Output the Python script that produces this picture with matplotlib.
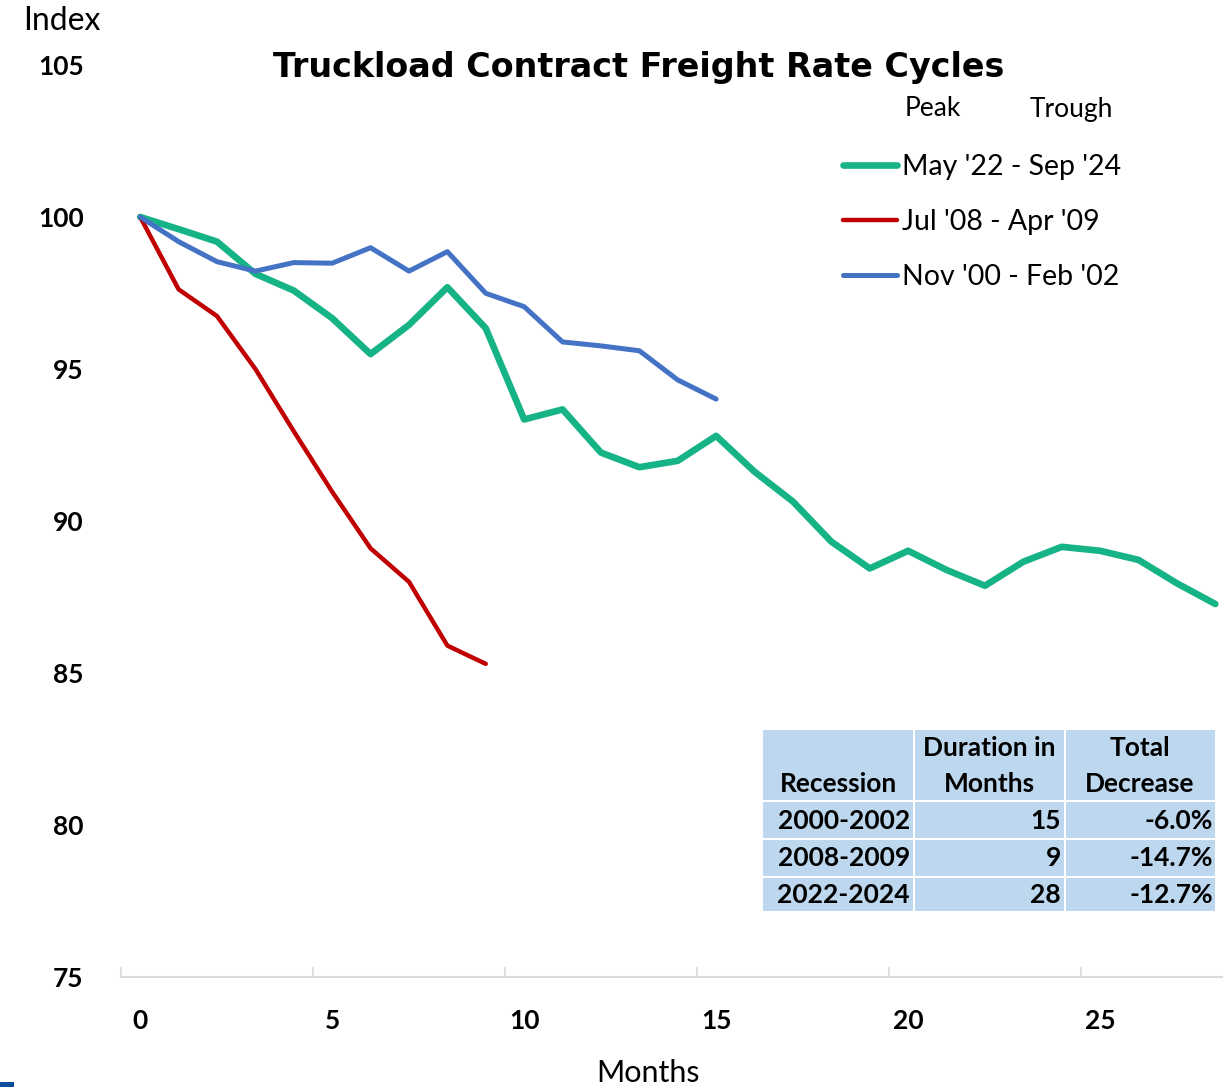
import matplotlib
matplotlib.use("Agg")
import matplotlib.pyplot as plt
from matplotlib.patches import Rectangle

# ---------------- data ----------------
series_labels = ["May '22 - Sep '24", "Jul '08 - Apr '09", "Nov '00 - Feb '02"]
green_2022 = [100.0, 99.6, 99.19, 98.13, 97.58, 96.67, 95.49, 96.45, 97.69, 96.34,
              93.34, 93.67, 92.25, 91.77, 91.98, 92.80, 91.62, 90.64, 89.32, 88.44,
              89.02, 88.39, 87.87, 88.66, 89.15, 89.02, 88.72, 87.95, 87.27]
red_2008 = [100.0, 97.62, 96.74, 95.0, 92.95, 90.96, 89.10, 88.0, 85.90, 85.30]
blue_2000 = [100.0, 99.19, 98.53, 98.22, 98.50, 98.48, 98.99, 98.22, 98.86, 97.49,
             97.05, 95.89, 95.76, 95.60, 94.64, 94.01]
x_ticks = [0, 5, 10, 15, 20, 25]
y_ticks = [75, 80, 85, 90, 95, 100, 105]

table_header = ["Recession", "Duration in\nMonths", "Total\nDecrease"]
table_recession = ["2000-2002", "2008-2009", "2022-2024"]
table_duration = ["15", "9", "28"]
table_decrease = ["-6.0%", "-14.7%", "-12.7%"]

# ---------------- figure ----------------
W, H = 1223, 1087
fig = plt.figure(figsize=(W / 100, H / 100), dpi=100)
plt.rcParams['font.family'] = ['Lato', 'DejaVu Sans']


def fx(px):
    return px / W


def fy(py):
    return 1 - py / H


ax = fig.add_axes([fx(121), fy(977), fx(1223) - fx(121), fy(65) - fy(977)])
ax.set_xlim(-0.5, 28.2)
ax.set_ylim(75, 105)

green_c, red_c, blue_c = "#16B386", "#C00000", "#4472C4"
l1, = ax.plot(range(len(green_2022)), green_2022, color=green_c, lw=4.8,
              solid_capstyle='round', solid_joinstyle='round', label=series_labels[0], zorder=3)
l2, = ax.plot(range(len(red_2008)), red_2008, color=red_c, lw=3.2,
              solid_capstyle='round', solid_joinstyle='round', label=series_labels[1], zorder=4)
l3, = ax.plot(range(len(blue_2000)), blue_2000, color=blue_c, lw=3.6,
              solid_capstyle='round', solid_joinstyle='round', label=series_labels[2], zorder=5)

for s in ['top', 'right', 'left']:
    ax.spines[s].set_visible(False)
ax.spines['bottom'].set_color('#D9D9D9')
ax.spines['bottom'].set_linewidth(1.5)

# x ticks: category-style boundaries with labels at months
ax.set_xticks([t - 0.5 for t in x_ticks])
ax.set_xticklabels([])
ax.tick_params(axis='x', direction='in', length=7, width=1.2, color='#D9D9D9')
ax.set_xticks(x_ticks, minor=True)
ax.set_xticklabels([str(t) for t in x_ticks], minor=True, fontsize=19, fontweight='bold')
ax.tick_params(axis='x', which='minor', length=0, pad=23)

ax.set_yticks(y_ticks)
ax.set_yticklabels([str(t) for t in y_ticks], fontsize=19, fontweight='bold')
ax.tick_params(axis='y', length=0, pad=27)

# axis labels / title
fig.text(fx(62), fy(21), "Index", fontsize=23, ha='center', va='center')
fig.text(fx(648), fy(1073), "Months", fontsize=22, ha='center', va='center')
fig.text(fx(639), fy(67), "Truckload Contract Freight Rate Cycles", fontsize=24,
         fontweight='bold', family='DejaVu Sans', ha='center', va='center')

# legend
fig.text(fx(933), fy(109), "Peak", fontsize=19, ha='center', va='center')
fig.text(fx(1071), fy(109), "Trough", fontsize=19, ha='center', va='center')
leg = fig.legend(handles=[l1, l2, l3], loc='upper left',
                 bbox_to_anchor=(fx(843), fy(154)), frameon=False,
                 fontsize=20.5, handlelength=1.9, handletextpad=0.18,
                 labelspacing=1.02, borderaxespad=0, borderpad=0)
for line in leg.get_lines():
    line.set_solid_capstyle('round')

# table
fill = "#BDD7EE"
cols = [(763, 913), (915, 1064), (1066, 1215)]
rows = [(730, 800), (802, 838), (840, 876), (878, 911)]
for (x0, x1) in cols:
    for (y0, y1) in rows:
        fig.patches.append(Rectangle((fx(x0), fy(y1)), fx(x1) - fx(x0), fy(y0) - fy(y1),
                                     transform=fig.transFigure, facecolor=fill,
                                     edgecolor='none', zorder=1))
tfs = 19
fig.text(fx(838), fy(784), table_header[0], fontsize=tfs, fontweight='bold', ha='center', va='center')
for ci, xc in ((1, 989), (2, 1140)):
    top, bot = table_header[ci].split("\n")
    fig.text(fx(xc), fy(748), top, fontsize=tfs, fontweight='bold', ha='center', va='center')
    fig.text(fx(xc), fy(784), bot, fontsize=tfs, fontweight='bold', ha='center', va='center')
row_y = [821, 858, 895]
for i in range(3):
    fig.text(fx(910), fy(row_y[i]), table_recession[i], fontsize=tfs, fontweight='bold', ha='right', va='center')
    fig.text(fx(1061), fy(row_y[i]), table_duration[i], fontsize=tfs, fontweight='bold', ha='right', va='center')
    fig.text(fx(1213), fy(row_y[i]), table_decrease[i], fontsize=tfs, fontweight='bold', ha='right', va='center')

# small cropped mark at bottom-left corner
fig.patches.append(Rectangle((0, 0), fx(14), fy(1082), transform=fig.transFigure,
                             facecolor="#0B4F9C", edgecolor='none'))

fig.savefig("out.png", dpi=100)
